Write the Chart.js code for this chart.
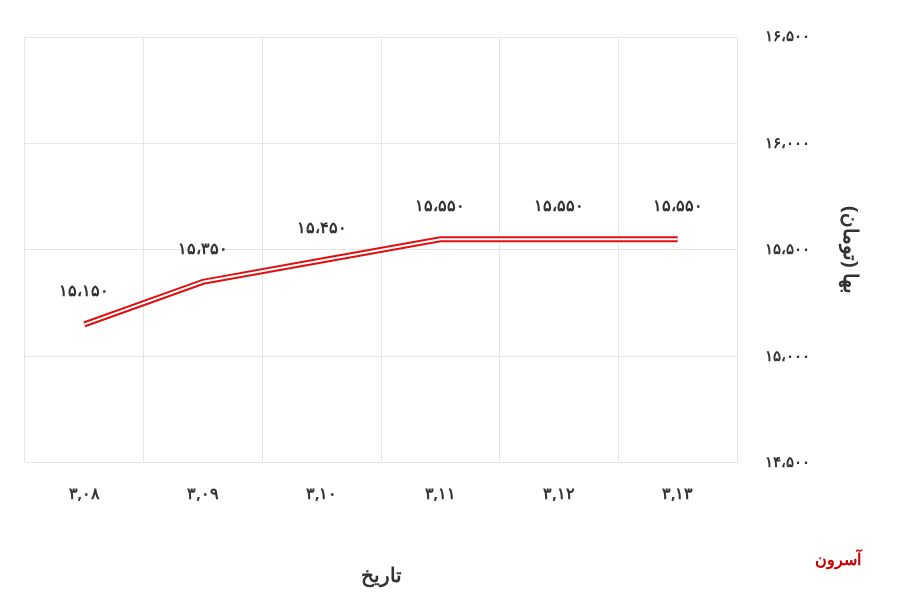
<!DOCTYPE html>
<html><head><meta charset="utf-8">
<script src="https://cdn.jsdelivr.net/npm/chart.js@4/dist/chart.umd.min.js"></script>
<style>body{margin:0;background:#fff}#w{width:902px;height:597px;position:relative}</style>
</head><body><div id="w"><canvas id="c" width="902" height="597"></canvas>
<div style="position:absolute;left:815px;top:548px;color:#c00;font:bold 16px 'Noto Sans',sans-serif">آسرون</div></div>
<script>
const categories=['۳,۰۸','۳,۰۹','۳,۱۰','۳,۱۱','۳,۱۲','۳,۱۳'];
const prices=[15150,15350,15450,15550,15550,15550];
const yTicks={14500:'۱۴،۵۰۰',15000:'۱۵،۰۰۰',15500:'۱۵،۵۰۰',16000:'۱۶،۰۰۰',16500:'۱۶،۵۰۰'};
const fa=n=>{const s=String(n);return (s.slice(0,-3)+'،'+s.slice(-3)).replace(/\d/g,d=>'۰۱۲۳۴۵۶۷۸۹'[d]);};
const F='"Noto Sans", sans-serif';
const labelPlugin={id:'lbl',afterDatasetsDraw(ch){const c=ch.ctx,m=ch.getDatasetMeta(0);c.save();c.font='bold 16px '+F;c.fillStyle='#333';c.textAlign='center';
m.data.forEach((p,i)=>{c.fillText(fa(prices[i]),p.x,p.y-28);});c.restore();}};
new Chart(document.getElementById('c'),{type:'line',
data:{labels:categories,datasets:[
{data:prices,borderColor:'#e01010',borderWidth:6,pointRadius:0,tension:0,order:2},
{data:prices,borderColor:'#fff',borderWidth:2,pointRadius:0,tension:0,order:1}]},
options:{responsive:false,animation:false,layout:{padding:{left:25,top:5,right:5,bottom:5}},
plugins:{legend:{display:false},tooltip:{enabled:false}},
scales:{x:{offset:true,grid:{offset:true,color:'#e6e6e6',drawTicks:false},border:{color:'#e6e6e6'},
ticks:{padding:22,color:'#333',font:{size:16,weight:'bold',family:F}},
title:{display:true,text:'تاریخ',color:'#333',padding:{top:38},font:{size:20,weight:'bold',family:F}}},
y:{position:'right',min:14500,max:16500,grid:{color:'#e6e6e6',drawTicks:false},border:{color:'#e6e6e6'},
afterBuildTicks:a=>{a.ticks=Object.keys(yTicks).map(v=>({value:+v}));},
ticks:{padding:28,color:'#333',callback:v=>yTicks[v],font:{size:15,weight:'bold',family:F}},
title:{display:true,text:'بها (تومان)',color:'#333',padding:{top:35,bottom:0},font:{size:20,weight:'bold',family:F}}}}},
plugins:[labelPlugin]});
</script>
</body></html>
